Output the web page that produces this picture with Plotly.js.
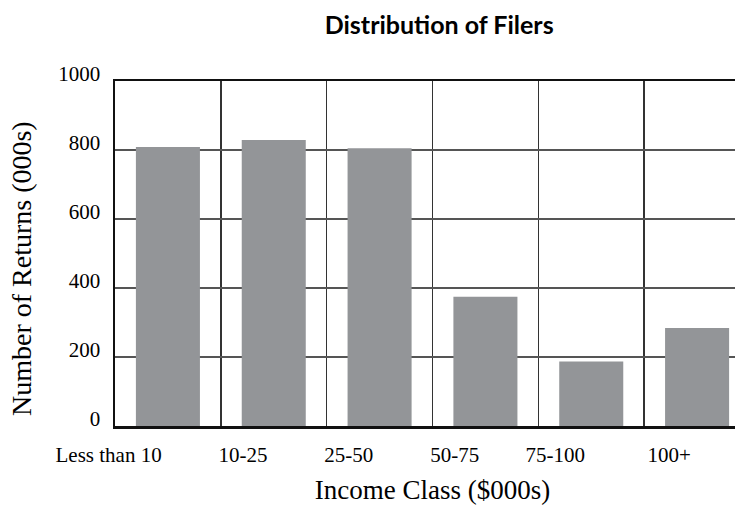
<!DOCTYPE html>
<html>
<head>
<meta charset="utf-8">
<script src="https://cdn.plot.ly/plotly-3.0.1.min.js"></script>
<style>
html, body { margin: 0; padding: 0; overflow: hidden; background: #fff; }
#chart { width: 752px; height: 506px; }
</style>
</head>
<body>
<div id="chart"></div>
<script>
const categories = ["Less than 10", "10-25", "25-50", "50-75", "75-100", "100+"];
const returns = [809, 829, 805, 375, 187, 284];
const yTicks = [0, 200, 400, 600, 800, 1000];
const yTitle = "Number of Returns (000s)";
const xTitle = "Income Class ($000s)";

const xIdx = categories.map((c, i) => i);

const trace = {
  type: "bar",
  x: xIdx,
  y: returns,
  width: 0.605,
  marker: { color: "#939598", line: { width: 0 } },
  hoverinfo: "skip"
};

const serif = "Liberation Serif, Times New Roman, serif";

const layout = {
  width: 752,
  height: 506,
  margin: { l: 115, r: 2, t: 81, b: 80 },
  paper_bgcolor: "#fff",
  plot_bgcolor: "#fff",
  showlegend: false,
  title: {
    text: "<b>Distribution of Filers</b>",
    font: { family: "Lato, Open Sans, sans-serif", size: 25, color: "#000" },
    x: 0.584, xanchor: "center",
    y: 0.95, yanchor: "middle"
  },
  xaxis: {
    type: "linear",
    range: [-0.5, 5.5],
    tickvals: xIdx,
    ticktext: categories,
    ticklabelposition: "outside left",
    ticklabelshift: -5,
    ticklabelstandoff: 8,
    showgrid: false,
    zeroline: false,
    showline: true,
    mirror: true,
    linecolor: "#111",
    linewidth: 2.5,
    ticks: "",
    tickfont: { family: serif, size: 21, color: "#000" },
    minor: { tick0: 0.5, dtick: 1, showgrid: true, gridcolor: "#333", gridwidth: 1.4, ticks: "" },
    title: { text: xTitle, font: { family: serif, size: 27, color: "#000" }, standoff: 15 },
    fixedrange: true
  },
  yaxis: {
    range: [0, 1000],
    tickvals: yTicks,
    ticktext: yTicks.map(String),
    showgrid: true,
    gridcolor: "#555",
    gridwidth: 1.4,
    zeroline: false,
    showline: true,
    linecolor: "#111",
    linewidth: 2.5,
    ticks: "",
    ticklabelstandoff: 8,
    ticklabelshift: -7,
    tickfont: { family: serif, size: 21, color: "#000" },
    fixedrange: true
  },
  annotations: [{
    text: yTitle,
    xref: "paper", yref: "paper",
    x: -0.148, y: 0.455,
    xanchor: "center", yanchor: "middle",
    textangle: -90,
    showarrow: false,
    font: { family: serif, size: 28, color: "#000" }
  }],
  bargap: 0.4
};

Plotly.newPlot("chart", [trace], layout, { displayModeBar: false, staticPlot: true });
</script>
</body>
</html>
